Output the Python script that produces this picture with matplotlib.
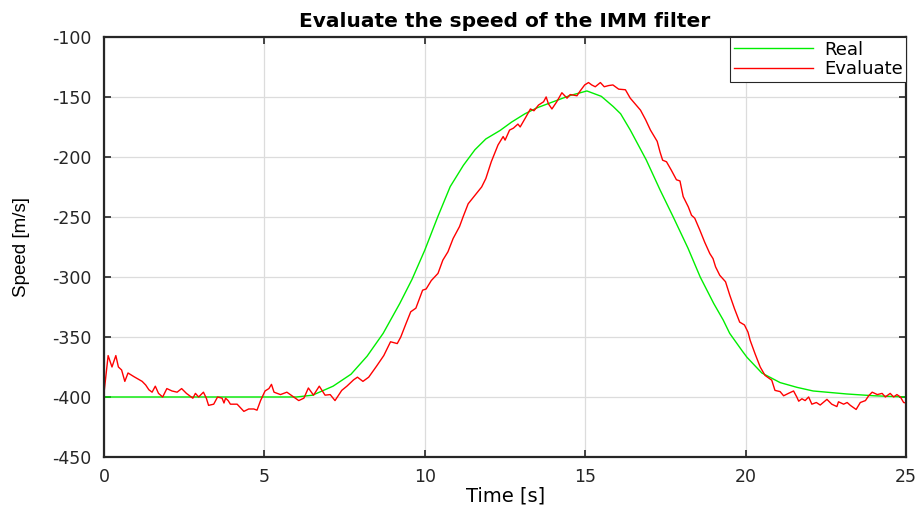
import matplotlib
matplotlib.use("Agg")
import matplotlib.pyplot as plt

plt.rcParams['font.family'] = ['DejaVu Sans']
plt.rcParams['axes.unicode_minus'] = False

# real speed
real_t = [0, 2, 4, 5, 6, 6.5, 7.14, 7.7, 8.2, 8.7, 9.22, 9.6, 10.0, 10.4, 10.79,
          11.2, 11.56, 11.9, 12.34, 12.7, 13.12, 13.5, 13.9, 14.5, 15.05, 15.5,
          15.87, 16.1, 16.4, 16.9, 17.33, 17.74, 18.2, 18.58, 19.0, 19.3, 19.5,
          19.9, 20.04, 20.5, 21.07, 21.6, 22.1, 23.15, 24.0, 25.0]
real_v = [-400, -400, -400, -400, -400, -398.5, -391, -381, -366, -347, -322, -302,
          -277.5, -250, -224.7, -207, -194, -185, -178, -171, -164, -159, -155,
          -149, -145, -149.5, -158, -164, -177.5, -202.5, -227.5, -250, -276, -300,
          -322, -336, -347, -362, -367, -380, -388, -392, -395, -397.5, -399, -400]

# estimated speed
est_t = [0.00, 0.13, 0.25, 0.37, 0.45, 0.55, 0.65, 0.75, 0.93, 1.19, 1.30, 1.40,
         1.50, 1.60, 1.70, 1.83, 1.96, 2.12, 2.28, 2.42, 2.57, 2.77, 2.85, 2.95,
         3.10, 3.19, 3.26, 3.42, 3.54, 3.68, 3.74, 3.79, 3.87, 3.94, 4.15, 4.36,
         4.51, 4.67, 4.77, 4.88, 5.02, 5.14, 5.22, 5.30, 5.50, 5.70, 5.86, 6.07,
         6.23, 6.37, 6.53, 6.71, 6.89, 7.05, 7.20, 7.41, 7.57, 7.78, 7.90, 8.07,
         8.25, 8.49, 8.72, 8.93, 9.14, 9.25, 9.41, 9.56, 9.72, 9.93, 10.04, 10.20,
         10.41, 10.56, 10.72, 10.88, 11.08, 11.19, 11.35, 11.56, 11.77, 11.90,
         12.07, 12.28, 12.44, 12.50, 12.64, 12.76, 12.90, 12.97, 13.13, 13.29,
         13.40, 13.54, 13.70, 13.78, 13.85, 13.96, 14.11, 14.27, 14.43, 14.53,
         14.74, 14.84, 14.98, 15.10, 15.20, 15.31, 15.47, 15.59, 15.73, 15.86,
         16.04, 16.25, 16.40, 16.59, 16.72, 16.88, 17.03, 17.24, 17.33, 17.41,
         17.53, 17.68, 17.84, 17.95, 18.05, 18.21, 18.31, 18.41, 18.57, 18.72,
         18.88, 18.98, 19.06, 19.19, 19.37, 19.50, 19.65, 19.81, 19.96, 20.07,
         20.14, 20.29, 20.45, 20.60, 20.81, 20.91, 21.07, 21.18, 21.33, 21.49,
         21.59, 21.65, 21.75, 21.85, 21.96, 22.06, 22.20, 22.32, 22.53, 22.68,
         22.84, 22.89, 23.05, 23.16, 23.26, 23.44, 23.57, 23.73, 23.83, 23.94,
         24.10, 24.25, 24.35, 24.50, 24.61, 24.71, 24.82, 24.92, 25.00]
est_v = [-397, -365.5, -375, -365.5, -375, -377.5, -387, -380, -383, -387, -390, -394,
         -396, -391, -397, -400, -393, -395, -396, -393, -397, -401, -397, -400,
         -396, -401, -407, -406, -400, -401, -405, -401, -403, -406, -406, -412,
         -410, -410, -411, -403, -395, -393, -389.5, -396, -398, -396, -399, -403,
         -401, -392.5, -398.5, -391, -398.5, -398, -403, -394.5, -391, -385.7, -383.5, -387,
         -383.5, -374.5, -365.5, -354, -355.5, -350, -339, -329, -326, -311, -310, -303,
         -297, -286, -279, -268, -258, -250, -239, -232, -225, -218,
         -204, -190, -183, -186, -177.6, -176, -172.6, -175, -167.6, -160,
         -161.5, -156.8, -154, -150, -155.7, -160, -154, -146.5, -151, -148,
         -149, -145, -140, -138, -140, -141.5, -138, -141.5, -140.5, -140,
         -143.5, -144, -151, -157, -161, -169, -177.6, -187, -196, -202.7,
         -204, -211, -219, -220, -233, -241.6, -248.6, -251, -261, -271,
         -280.5, -284.7, -291.6, -298.6, -304, -315, -326.5, -337.6, -340, -346,
         -353, -364, -375, -382, -386, -394.5, -395.5, -399, -397, -395,
         -400, -403.5, -401.5, -403, -400, -406, -404.6, -406.7, -402, -406,
         -408, -404, -406, -404.6, -407, -410.4, -404.6, -403, -399, -396,
         -398, -397, -400, -397, -400, -398, -400, -404.6, -405]

x_ticks = [0, 5, 10, 15, 20, 25]
y_ticks = [-450, -400, -350, -300, -250, -200, -150, -100]

fig = plt.figure(figsize=(9.2, 5.11), dpi=100)
ax = fig.add_axes([0.113, 0.1057, 0.872, 0.822])

ax.plot(real_t, real_v, color='#00ee00', lw=1.0, label='Real')
ax.plot(est_t, est_v, color='#ff0000', lw=1.0, label='Evaluate')

ax.set_xlim(0, 25)
ax.set_ylim(-450, -100)
ax.set_xticks(x_ticks)
ax.set_yticks(y_ticks)
ax.tick_params(direction='in', length=5, width=1.2, labelsize=12.5,
               top=True, right=True, colors='#262626')
ax.tick_params(axis='y', pad=9)
ax.tick_params(axis='x', pad=8)
ax.grid(True, color='#dcdcdc', lw=0.9)
ax.set_axisbelow(True)
for s in ax.spines.values():
    s.set_linewidth(1.6)
    s.set_color('#262626')

ax.set_title('Evaluate the speed of the IMM filter', fontsize=14.5, fontweight='bold', pad=7)
ax.set_xlabel('Time [s]', fontsize=14)
ax.set_ylabel('Speed [m/s]', fontsize=13.5, family='Liberation Sans')
ax.xaxis.set_label_coords(0.5, -0.07)
ax.yaxis.set_label_coords(-0.092, 0.5)

leg = ax.legend(loc='upper right', borderaxespad=0, fancybox=False, framealpha=1,
                edgecolor='#262626', fontsize=13, handlelength=4.4, borderpad=0.2,
                labelspacing=0.1, handletextpad=0.6)
leg.get_frame().set_linewidth(0.8)

fig.savefig('out.png', dpi=100)
